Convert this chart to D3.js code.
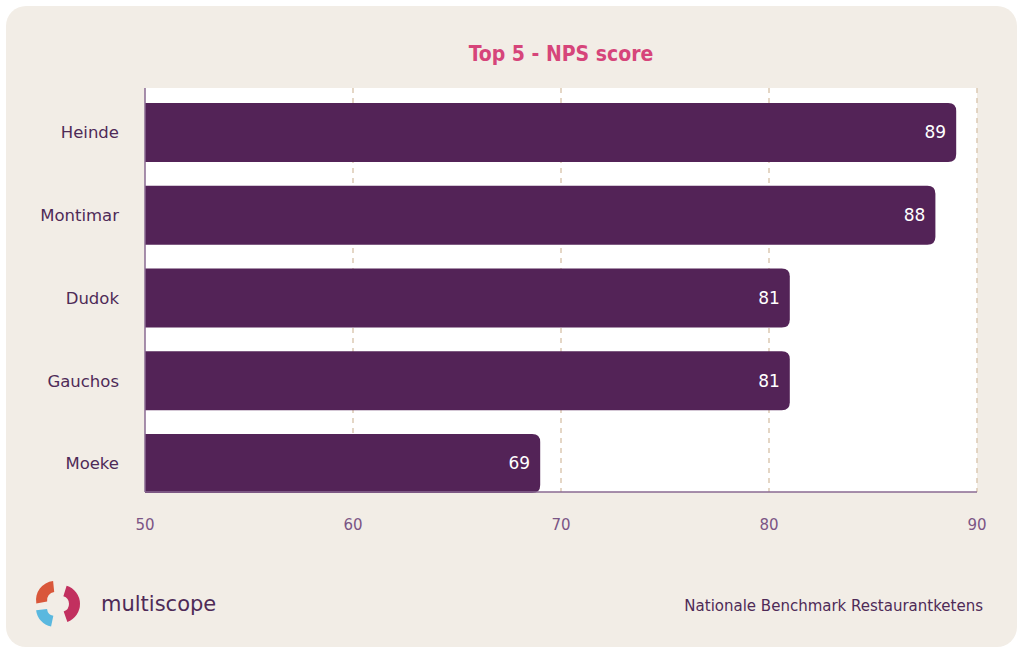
<!DOCTYPE html>
<html>
<head>
<meta charset="utf-8">
<script src="https://cdn.jsdelivr.net/npm/d3@7"></script>
<style>
  body { margin: 0; background: #fff; }
  svg { display: block; font-family: "DejaVu Sans", sans-serif; }
</style>
</head>
<body>
<div id="chart"></div>
<script>
const categories = ["Heinde", "Montimar", "Dudok", "Gauchos", "Moeke"];
const scores = [89, 88, 81, 81, 69];
const xTicks = [50, 60, 70, 80, 90];

const width = 1024, height = 653;
const plot = { left: 145, right: 977, top: 88, bottom: 492 };

const svg = d3.select("#chart").append("svg")
  .attr("width", width)
  .attr("height", height);

// card background
svg.append("rect")
  .attr("x", 6).attr("y", 6)
  .attr("width", 1011).attr("height", 641)
  .attr("rx", 20)
  .attr("fill", "#f2ede6");

// title
svg.append("text")
  .attr("x", 561).attr("y", 61)
  .attr("text-anchor", "middle")
  .attr("font-family", "'DejaVu Sans Condensed', 'DejaVu Sans', sans-serif")
  .attr("font-size", 21)
  .attr("font-weight", "bold")
  .attr("fill", "#d6457a")
  .text("Top 5 - NPS score");

const x = d3.scaleLinear().domain([50, 90]).range([plot.left, plot.right]);
const y = d3.scaleBand()
  .domain(categories)
  .range([90.6, 505.4])
  .paddingInner(0.287)
  .paddingOuter(0.15);

// white plot area
svg.append("rect")
  .attr("x", plot.left).attr("y", plot.top)
  .attr("width", plot.right - plot.left)
  .attr("height", plot.bottom - plot.top)
  .attr("fill", "#fff");

// dashed grid
svg.selectAll(".grid")
  .data(xTicks.slice(1))
  .enter().append("line")
  .attr("class", "grid")
  .attr("x1", d => x(d)).attr("x2", d => x(d))
  .attr("y1", plot.top).attr("y2", plot.bottom)
  .attr("stroke", "#dcc9b3")
  .attr("stroke-width", 1.5)
  .attr("stroke-dasharray", "5,5");

// bars, square left, rounded right
const r = 8;
svg.selectAll(".bar")
  .data(categories)
  .enter().append("path")
  .attr("class", "bar")
  .attr("fill", "#532357")
  .attr("d", (d, i) => {
    const x0 = x(50), x1 = x(scores[i]);
    const y0 = y(d), h = y.bandwidth();
    return `M${x0},${y0}H${x1 - r}Q${x1},${y0} ${x1},${y0 + r}` +
      `V${y0 + h - r}Q${x1},${y0 + h} ${x1 - r},${y0 + h}H${x0}Z`;
  });

// value labels
svg.selectAll(".val")
  .data(categories)
  .enter().append("text")
  .attr("class", "val")
  .attr("x", (d, i) => x(scores[i]) - 10)
  .attr("y", d => y(d) + y.bandwidth() / 2)
  .attr("dy", "0.35em")
  .attr("text-anchor", "end")
  .attr("font-size", 17)
  .attr("fill", "#fff")
  .text((d, i) => scores[i]);

// axis lines
svg.append("line")
  .attr("x1", plot.left).attr("x2", plot.left)
  .attr("y1", plot.top).attr("y2", plot.bottom)
  .attr("stroke", "#8a6a92").attr("stroke-width", 1.5);
svg.append("line")
  .attr("x1", plot.left).attr("x2", plot.right)
  .attr("y1", plot.bottom).attr("y2", plot.bottom)
  .attr("stroke", "#8a6a92").attr("stroke-width", 1.5);

// category labels
svg.selectAll(".cat")
  .data(categories)
  .enter().append("text")
  .attr("class", "cat")
  .attr("x", 119)
  .attr("y", d => y(d) + y.bandwidth() / 2)
  .attr("dy", "0.35em")
  .attr("text-anchor", "end")
  .attr("font-size", 16.5)
  .attr("fill", "#4e2a57")
  .text(d => d);

// x tick labels
svg.selectAll(".tick-label")
  .data(xTicks)
  .enter().append("text")
  .attr("class", "tick-label")
  .attr("x", d => x(d))
  .attr("y", 530)
  .attr("text-anchor", "middle")
  .attr("font-size", 15)
  .attr("fill", "#7b5585")
  .text(d => d);

// footer source
svg.append("text")
  .attr("x", 983).attr("y", 611)
  .attr("text-anchor", "end")
  .attr("font-size", 15)
  .attr("fill", "#4e2a57")
  .text("Nationale Benchmark Restaurantketens");

// logo
const logo = svg.append("g").attr("transform", "translate(58,604)");
const arc = d3.arc().innerRadius(8).outerRadius(19);
const pieces = [
  { a0: -1.75, a1: -0.1, c: "#d9573a", dx: -3, dy: -4 },
  { a0: 0.3, a1: 2.8, c: "#c2305f", dx: 3, dy: 0 },
  { a0: 3.35, a1: 4.6, c: "#5ab8df", dx: -3, dy: 4 }
];
logo.selectAll("path")
  .data(pieces)
  .enter().append("path")
  .attr("transform", d => `translate(${d.dx},${d.dy})`)
  .attr("d", d => arc({ startAngle: d.a0, endAngle: d.a1 }))
  .attr("fill", d => d.c);

svg.append("text")
  .attr("x", 101).attr("y", 611)
  .attr("font-size", 21)
  .attr("fill", "#4e2a57")
  .text("multiscope");
</script>
</body>
</html>
